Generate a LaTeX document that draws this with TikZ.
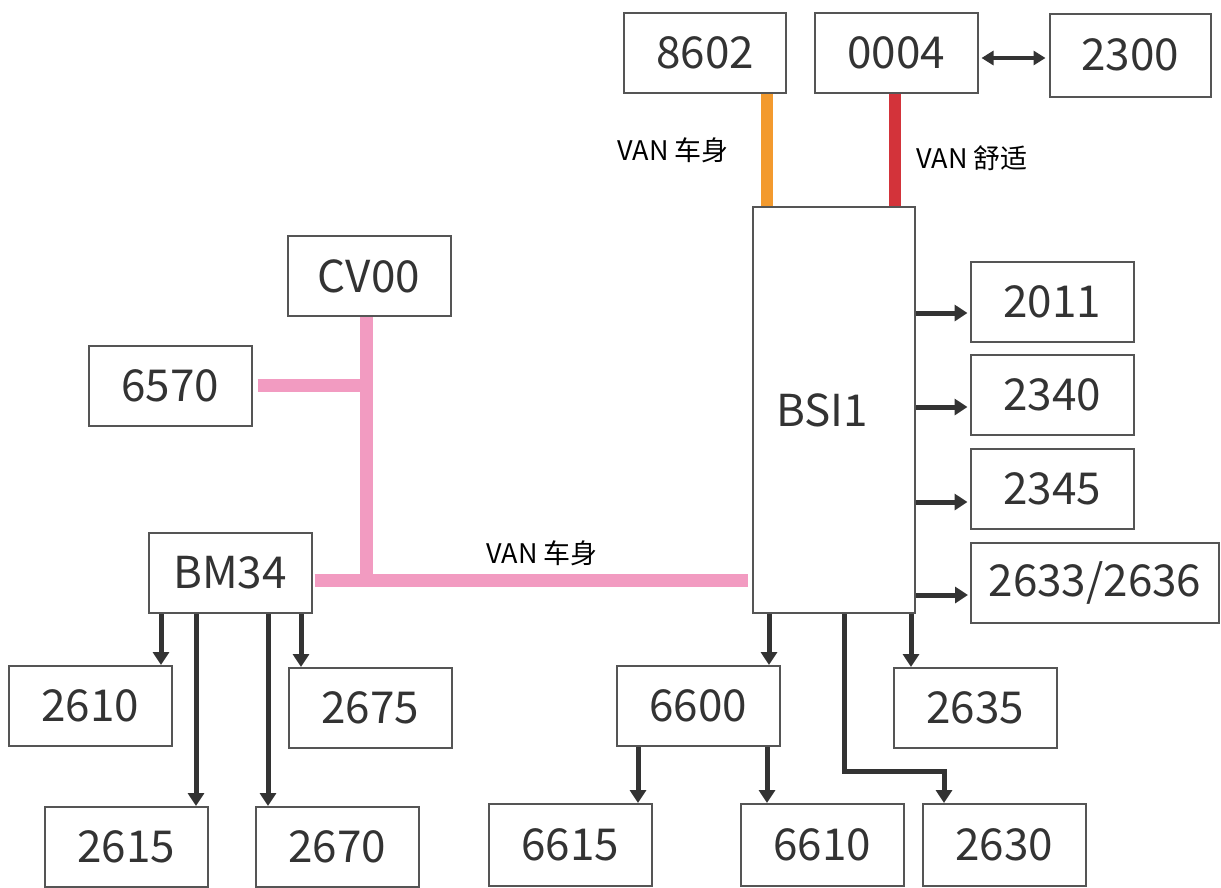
\documentclass[tikz,border=0pt]{standalone}
\usepackage{fontspec}
\setmainfont{Noto Sans CJK SC}
\usetikzlibrary{arrows.meta}
\definecolor{pinkbus}{HTML}{F29BC1}
\definecolor{orangebus}{HTML}{F39A2E}
\definecolor{redbus}{HTML}{D3333A}
\definecolor{ink}{HTML}{333333}
\definecolor{frame}{HTML}{555555}
\begin{document}
\begin{tikzpicture}[x=1pt,y=-1pt,
 box/.style={draw=frame, line width=2pt, fill=white, text=ink, font=\fontsize{44}{48}\selectfont, minimum width=163pt, minimum height=80pt, inner sep=0pt},
 arr/.style={draw=ink, line width=5pt, -{Triangle[length=13pt,width=16pt]}},
 dbl/.style={draw=ink, line width=4pt, {Triangle[length=12pt,width=14pt]}-{Triangle[length=12pt,width=14pt]}},
 bus/.style={line width=13pt},
 lbl/.style={font=\fontsize{27}{30}\selectfont, text=black, inner sep=0pt}]
\useasboundingbox (0,0) rectangle (1221,887);
% top row
\node[box, minimum width=162pt] (n8602) at (705,53) {8602};
\node[box] (n0004) at (896,53) {0004};
\node[box, minimum width=161pt, minimum height=83pt] (n2300) at (1130,55) {2300};
% BSI1
\node[box, minimum width=162pt, minimum height=406pt] (bsi) at (834,410) {\hspace*{-24pt}BSI1};
% right column
\node[box] (n2011) at (1052,302) {2011};
\node[box] (n2340) at (1052,395) {2340};
\node[box] (n2345) at (1052,489) {2345};
\node[box, minimum width=248pt] (n2633) at (1095,583) {2633/2636};
% left part
\node[box] (cv) at (369,276) {CV00};
\node[box] (n6570) at (170,386) {6570};
\node[box] (bm) at (230,573) {BM34};
\node[box] (n2610) at (90,706) {2610};
\node[box] (n2675) at (370,708) {2675};
\node[box] (n2615) at (126,847) {2615};
\node[box] (n2670) at (337,847) {2670};
% bottom right
\node[box] (n6600) at (698,706) {6600};
\node[box] (n2635) at (975,708) {2635};
\node[box, minimum height=82pt] (n6615) at (570,845) {6615};
\node[box, minimum height=82pt] (n6610) at (822,845) {6610};
\node[box, minimum height=82pt] (n2630) at (1004,845) {2630};
% labels
\node[lbl] (l1) at (673,150) {VAN 车身};
\node[lbl] (l2) at (972,158) {VAN 舒适};
\node[lbl] (l3) at (542,553) {VAN 车身};
% buses
\coordinate (jt) at (366,385);
\coordinate (jb) at (366,580);
\draw[bus, pinkbus] (cv.south -| jt) -- (jb);
\draw[bus, pinkbus] ([xshift=5pt]n6570.east |- jt) -- (jt);
\draw[bus, pinkbus] ([xshift=2pt]bm.east |- jb) -- ([xshift=-4pt]bsi.west |- jb);
\draw[bus, orangebus, line width=12pt] ([xshift=62pt]n8602.south) -- ([xshift=62pt]n8602.south |- bsi.north);
\draw[bus, redbus, line width=12pt] ([xshift=-1pt]n0004.south) -- ([xshift=-1pt]n0004.south |- bsi.north);
% double arrow
\draw[dbl] ([xshift=3pt,yshift=-5pt]n0004.east) -- ([xshift=-3pt,yshift=-5pt]n0004.east -| n2300.west);
% BSI right arrows
\draw[arr] ([yshift=-11pt]n2011.west -| bsi.east) -- ([xshift=-2pt,yshift=-11pt]n2011.west);
\draw[arr] ([yshift=-12pt]n2340.west -| bsi.east) -- ([xshift=-2pt,yshift=-12pt]n2340.west);
\draw[arr] ([yshift=-13pt]n2345.west -| bsi.east) -- ([xshift=-2pt,yshift=-13pt]n2345.west);
\draw[arr] ([yshift=-12pt]n2633.west -| bsi.east) -- ([xshift=-2pt,yshift=-12pt]n2633.west);
% BSI bottom arrows
\draw[arr] ([xshift=-65pt]bsi.south) -- ([xshift=-65pt]bsi.south |- n6600.north);
\draw[arr] ([xshift=77pt]bsi.south) -- ([xshift=77pt]bsi.south |- n2635.north);
\draw[arr] ([xshift=10pt]bsi.south) |- ([xshift=-60pt,yshift=32pt]n2630.north) -- ([xshift=-60pt]n2630.north);
% 6600 arrows
\draw[arr] ([xshift=-60pt]n6600.south) -- ([xshift=-60pt]n6600.south |- n6615.north);
\draw[arr] ([xshift=69pt]n6600.south) -- ([xshift=69pt]n6600.south |- n6610.north);
% BM34 arrows
\draw[arr] ([xshift=-69pt]bm.south) -- ([xshift=-69pt]bm.south |- n2610.north);
\draw[arr] ([xshift=-34pt]bm.south) -- ([xshift=-34pt]bm.south |- n2615.north);
\draw[arr] ([xshift=38pt]bm.south) -- ([xshift=38pt]bm.south |- n2670.north);
\draw[arr] ([xshift=71pt]bm.south) -- ([xshift=71pt]bm.south |- n2675.north);
\end{tikzpicture}
\end{document}
